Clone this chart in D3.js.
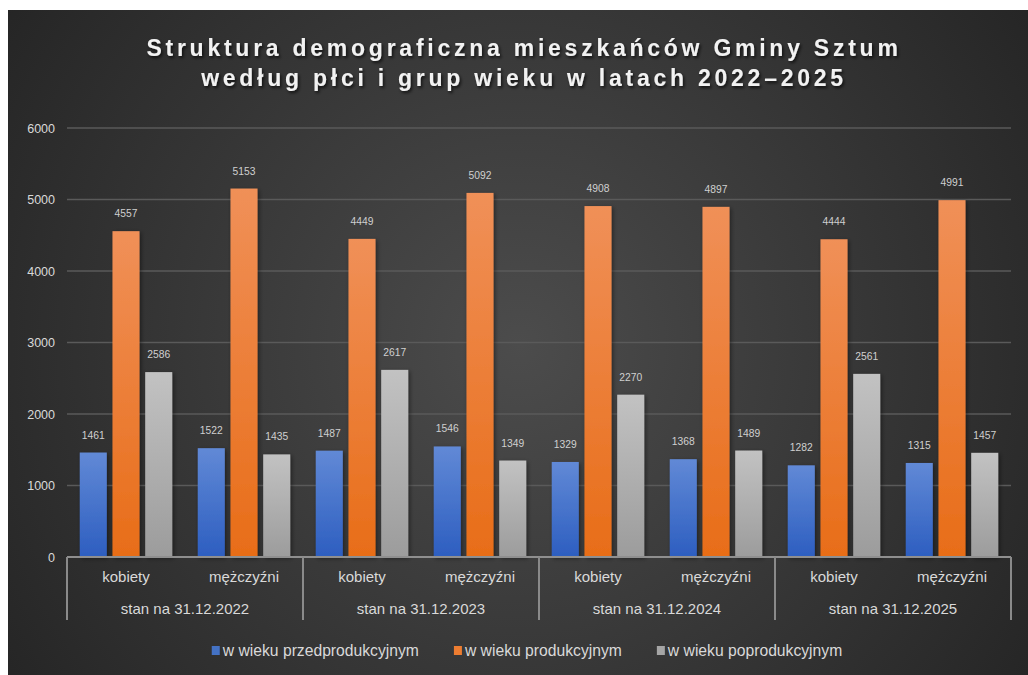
<!DOCTYPE html>
<html>
<head>
<meta charset="utf-8">
<script src="https://cdn.jsdelivr.net/npm/d3@7"></script>
<style>
  html, body { margin: 0; padding: 0; background: #ffffff; }
  svg { display: block; }
</style>
</head>
<body>
<svg id="chart" width="1028" height="675"></svg>
<script>
// ---- data ----
const titleLines = ["Struktura demograficzna mieszkańców Gminy Sztum", "według płci i grup wieku w latach 2022–2025"];
const years = ["stan na 31.12.2022", "stan na 31.12.2023", "stan na 31.12.2024", "stan na 31.12.2025"];
const sexes = ["kobiety", "mężczyźni"];
const seriesNames = ["w wieku przedprodukcyjnym", "w wieku produkcyjnym", "w wieku poprodukcyjnym"];
const preProd = [1461, 1522, 1487, 1546, 1329, 1368, 1282, 1315];
const prod = [4557, 5153, 4449, 5092, 4908, 4897, 4444, 4991];
const postProd = [2586, 1435, 2617, 1349, 2270, 1489, 2561, 1457];
const yTicks = [0, 1000, 2000, 3000, 4000, 5000, 6000];

const seriesValues = [preProd, prod, postProd];
const seriesColors = [
  { top: "#6189d6", bottom: "#2d5ec0", key: "#4472c4" },
  { top: "#f09058", bottom: "#e86d18", key: "#ed7d31" },
  { top: "#c2c2c2", bottom: "#9c9c9c", key: "#a5a5a5" }
];

// flatten into records
const records = [];
years.forEach((yr, i) => {
  sexes.forEach((sx, j) => {
    seriesNames.forEach((sn, k) => {
      records.push({ year: yr, sex: sx, series: sn, k, value: seriesValues[k][i * 2 + j] });
    });
  });
});

const svg = d3.select("#chart");
const W = 1028, H = 675;
const defs = svg.append("defs");

// background
const bg = defs.append("radialGradient").attr("id", "bgGrad")
  .attr("gradientUnits", "userSpaceOnUse")
  .attr("cx", 520).attr("cy", 345).attr("r", 620);
bg.append("stop").attr("offset", "0%").attr("stop-color", "#4c4c4c");
bg.append("stop").attr("offset", "100%").attr("stop-color", "#252525");

svg.append("rect").attr("x", 8).attr("y", 10).attr("width", W - 8).attr("height", H - 10)
  .attr("fill", "url(#bgGrad)");

// gradients for bars
seriesColors.forEach((c, k) => {
  const g = defs.append("linearGradient").attr("id", "barGrad" + k)
    .attr("x1", 0).attr("y1", 0).attr("x2", 0).attr("y2", 1);
  g.append("stop").attr("offset", "0%").attr("stop-color", c.top);
  g.append("stop").attr("offset", "100%").attr("stop-color", c.bottom);
});

const shadow = defs.append("filter").attr("id", "barShadow")
  .attr("x", "-30%").attr("y", "-10%").attr("width", "160%").attr("height", "120%");
shadow.append("feDropShadow").attr("dx", 1.5).attr("dy", 1.5).attr("stdDeviation", 2)
  .attr("flood-color", "#000").attr("flood-opacity", 0.45);

const tShadow = defs.append("filter").attr("id", "titleShadow")
  .attr("x", "-5%").attr("y", "-30%").attr("width", "110%").attr("height", "160%");
tShadow.append("feDropShadow").attr("dx", 1.5).attr("dy", 2).attr("stdDeviation", 1.5)
  .attr("flood-color", "#000").attr("flood-opacity", 0.7);

// scales
const plotL = 67, plotR = 1011, plotT = 128, plotB = 557;
const x0 = d3.scaleBand().domain(years).range([plotL, plotR]).padding(0);
const x1 = d3.scaleBand().domain(sexes).range([0, x0.bandwidth()]).padding(0);
const x2 = d3.scaleBand().domain(seriesNames).range([0, x1.bandwidth()])
  .paddingInner(0.174).paddingOuter(0.39);
const y = d3.scaleLinear().domain([0, 6000]).range([plotB, plotT]);

const font = "'Liberation Sans', Arial, sans-serif";

// title
const title = svg.append("g").attr("filter", "url(#titleShadow)");
titleLines.forEach((t, i) => {
  title.append("text")
    .attr("x", 524).attr("y", 56 + i * 30)
    .attr("text-anchor", "middle")
    .attr("font-family", font)
    .attr("font-weight", "bold")
    .attr("font-size", 23)
    .attr("letter-spacing", "3.75px")
    .attr("fill", "#f2f2f2")
    .text(t);
});

// gridlines
svg.append("g")
  .selectAll("line")
  .data(yTicks.filter(d => d > 0))
  .join("line")
  .attr("x1", plotL).attr("x2", plotR)
  .attr("y1", d => y(d)).attr("y2", d => y(d))
  .attr("stroke", "#5a5a5a").attr("stroke-width", 1.5);

// y axis
const yAxis = svg.append("g").attr("transform", `translate(${plotL - 12},0)`)
  .call(d3.axisLeft(y).tickValues(yTicks).tickSize(0).tickPadding(0).tickFormat(d3.format("d")));
yAxis.select(".domain").remove();
yAxis.selectAll("text")
  .attr("font-family", font).attr("font-size", 12.5).attr("fill", "#d9d9d9");

// bars
const barG = svg.append("g").attr("filter", "url(#barShadow)");
barG.selectAll("rect")
  .data(records)
  .join("rect")
  .attr("x", d => x0(d.year) + x1(d.sex) + x2(d.series))
  .attr("y", d => y(d.value))
  .attr("width", x2.bandwidth())
  .attr("height", d => y(0) - y(d.value))
  .attr("fill", d => `url(#barGrad${d.k})`);

// data labels
svg.append("g")
  .selectAll("text")
  .data(records)
  .join("text")
  .attr("x", d => x0(d.year) + x1(d.sex) + x2(d.series) + x2.bandwidth() / 2)
  .attr("y", d => y(d.value) - 14)
  .attr("text-anchor", "middle")
  .attr("font-family", font).attr("font-size", 10.3)
  .attr("fill", "#d0d0d0")
  .text(d => d.value);

// category axis: baseline
svg.append("line")
  .attr("x1", plotL).attr("x2", plotR).attr("y1", plotB).attr("y2", plotB)
  .attr("stroke", "#8f8f8f").attr("stroke-width", 2);

// group separators
const sepXs = years.map(yr => x0(yr)).concat([x0(years[years.length - 1]) + x0.bandwidth()]);
svg.append("g").selectAll("line")
  .data(sepXs)
  .join("line")
  .attr("x1", d => d).attr("x2", d => d)
  .attr("y1", plotB).attr("y2", 620)
  .attr("stroke", "#8a8a8a").attr("stroke-width", 2);

// sub-category labels
const subG = svg.append("g");
years.forEach(yr => {
  sexes.forEach(sx => {
    subG.append("text")
      .attr("x", x0(yr) + x1(sx) + x1.bandwidth() / 2)
      .attr("y", 582)
      .attr("text-anchor", "middle")
      .attr("font-family", font).attr("font-size", 15)
      .attr("fill", "#d9d9d9")
      .text(sx);
  });
});

// group labels
svg.append("g").selectAll("text")
  .data(years)
  .join("text")
  .attr("x", d => x0(d) + x0.bandwidth() / 2)
  .attr("y", 614)
  .attr("text-anchor", "middle")
  .attr("font-family", font).attr("font-size", 15)
  .attr("fill", "#d9d9d9")
  .text(d => d);

// legend
const leg = svg.append("g");
const items = leg.selectAll("g").data(seriesNames).join("g");
items.append("rect")
  .attr("width", 8).attr("height", 9).attr("y", -5)
  .attr("fill", (d, i) => seriesColors[i].key);
items.append("text")
  .attr("x", 11).attr("y", 5)
  .attr("font-family", font).attr("font-size", 15.7)
  .attr("fill", "#d9d9d9")
  .text(d => d);
const widths = [];
items.each(function () { widths.push(this.getBBox().width); });
const gap = 35;
const total = d3.sum(widths) + gap * (widths.length - 1);
let cx = 527 - total / 2;
items.attr("transform", (d, i) => {
  const t = `translate(${cx},651)`;
  cx += widths[i] + gap;
  return t;
});
</script>
</body>
</html>
